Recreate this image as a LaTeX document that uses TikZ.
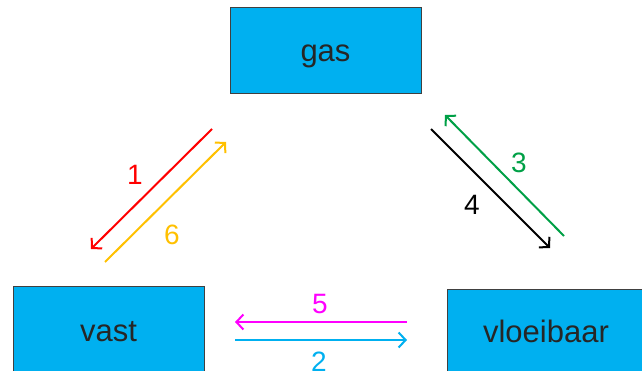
\documentclass[tikz,border=0pt]{standalone}
\usepackage{fontspec}
\setmainfont{Liberation Sans}
\usetikzlibrary{arrows.meta}
\definecolor{boxblue}{RGB}{0,176,240}
\definecolor{goldish}{RGB}{255,192,0}
\definecolor{darkgreen}{RGB}{0,160,70}
\definecolor{pinkish}{RGB}{255,0,255}
\tikzset{
  phase/.style={draw=black!75,fill=boxblue,line width=1pt,font=\fontsize{31}{31}\selectfont,
    text=black!85,text height=22pt,text depth=1pt},
  trans/.style={-{Straight Barb[length=7pt,width=15pt]},line width=2pt},
  num/.style={font=\fontsize{28}{28}\selectfont}
}
\begin{document}
\begin{tikzpicture}[x=1pt,y=-1pt]
  \useasboundingbox (0,0) rectangle (642,371);
  \node[phase,minimum width=191pt,minimum height=86pt] (gas) at (325.5,51) {gas};
  \node[phase,minimum width=191pt,minimum height=90pt] (vast) at (108.5,331) {vast};
  \node[phase,minimum width=198pt,minimum height=86pt] (vloeibaar) at (546,332) {vloeibaar};
  % ends of the arrows
  \coordinate (r1) at (212,129);  \coordinate (r2) at (91,249);
  \coordinate (y1) at (105,262);  \coordinate (y2) at (226,142);
  \coordinate (k1) at (431,129);  \coordinate (k2) at (550,248);
  \coordinate (g1) at (564,236);  \coordinate (g2) at (445,115);
  \coordinate (m1) at (407,322);  \coordinate (m2) at (235,322);
  \coordinate (c1) at (235,340);  \coordinate (c2) at (407,340);
  \draw[trans,red] (r1)--(r2);
  \draw[trans,goldish] (y1)--(y2);
  \draw[trans,black] (k1)--(k2);
  \draw[trans,darkgreen] (g1)--(g2);
  \draw[trans,pinkish] (m1)--(m2);
  \draw[trans,boxblue] (c1)--(c2);
  \node[num,red] (n1) at (135,175) {1};
  \node[num,goldish] (n6) at (172,235) {6};
  \node[num,darkgreen] (n3) at (519,163) {3};
  \node[num,black] (n4) at (472,205) {4};
  \node[num,pinkish] (n5) at (320,304) {5};
  \node[num,boxblue] (n2) at (319,362) {2};
\end{tikzpicture}
\end{document}
